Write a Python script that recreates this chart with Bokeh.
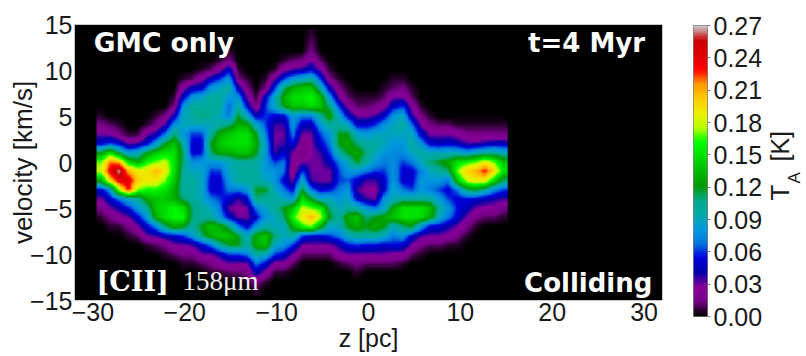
import numpy as np
from bokeh.plotting import figure
from bokeh.layouts import row
from bokeh.models import LinearColorMapper, FixedTicker, Label, Range1d
from bokeh.embed import file_html
from bokeh.resources import INLINE

# velocity channels (km/s), top to bottom
velocity = [14,13,12,11,10, 9,8,7,6,5, 4,3,2,1,0, -1,-2,-3,-4,-5, -6,-7,-8,-9,-10, -11,-12,-13,-14]
# antenna temperature in 0.01 K, one list per position along z
ta01 = [0,0,0,0,0, 0,0,0,0,.5, 1.5,3,5,12,17, 18,13,5,3,1.5, .5,0,0,0,0, 0,0,0,0]
ta02 = [0,0,0,0,0, 0,0,0,0,0, 1,3,6,15,22, 24,20,8,5,3, 1.5,.5,0,0,0, 0,0,0,0]
ta03 = [0,0,0,0,0, 0,0,0,0,0, .5,1.5,5,11,21, 27,24,18,7,4, 2.5,.5,0,0,0, 0,0,0,0]
ta04 = [0,0,0,0,0, 0,0,0,0,0, 0,.5,3,8,15, 21,24,23,9,5.5, 3,1.5,.5,0,0, 0,0,0,0]
ta05 = [0,0,0,0,0, 0,0,0,0,0, 0,.5,3.5,9,13, 19,20,17,10,8, 5,3,1,0,0, 0,0,0,0]
ta06 = [0,0,0,0,0, 0,0,0,0,0, .5,3,5,12,16, 19,19,16,13,10, 8,5,3,.5,0, 0,0,0,0]
ta07 = [0,0,0,0,0, 0,0,0,0,.5, 1.5,4,8,14,17, 21,19,16,14,14, 13,7,3.5,1,0, 0,0,0,0]
ta08 = [0,0,0,0,0, 0,0,0,0,1.5, 3.5,7,12,15,18, 19,17,15,14,15, 15,11,4.5,1.5,.5, 0,0,0,0]
ta09 = [0,0,0,0,0, 0,0,.5,1.5,4.5, 8,11,14,15,15, 15,14,13,13,16, 16,13,5,3,1, 0,0,0,0]
ta10 = [0,0,0,0,0, .5,2.5,5,8,9, 9,8,10,11,11, 10,10,10,11,15, 16,12,6,3,1.5, .5,0,0,0]
ta11 = [0,0,0,0,0, 1,4.5,8,10,10, 9,6,5,5,7.5, 9,10,10,10,11, 11,10,8,3.5,1.5, .5,0,0,0]
ta12 = [0,0,0,0,.5, 2.5,5,9,10,11, 9,6,5,5.5,8, 9,9,9,9,10, 10,12,11,5,3, 1,0,0,0]
ta13 = [0,0,0,0,1, 4.5,8,10,10,10, 9,10,12,11,8, 6,5,5,7,9, 10,14,13,7,3, 1.5,.5,0,0]
ta14 = [0,0,0,.5,2.5, 6,9,10,10,9, 10,13,14,13,8, 6,5,5,6,7, 8,13,14,10,4, 2.5,.5,0,0]
ta15 = [0,0,.5,1.5,5, 8,10,8,6.5,7, 11,14,15,13,9, 9,8,7,5,3, 5,11,14,12,6, 3,1,0,0]
ta16 = [0,0,0,0,.5, 1.5,4.5,8,10,12, 13,15,15,14,10, 10,10,7,3.5,2.5, 3,7,12,12,6, 3,1,0,0]
ta17 = [0,0,0,0,0, .5,1.5,3,5,9, 13,15,15,14,10, 10,10,8,5,3, 3,5,9,10,7, 3,1.5,.5,0]
ta18 = [0,0,0,0,0, 0,0,.5,1.5,4.5, 9,12,13,12,10, 10,10,12,11,7, 5,8,13,13,10, 7,4.5,1.5,.5]
ta19 = [0,0,0,0,0, .5,1.5,5,6,6, 6,7,8,8,8, 8,9,12,10,9, 8,10,14,14,9, 5,2.5,.5,0]
ta20 = [0,0,0,0,.5, 3,6,9,9,5, 3.5,3,3,3.5,6, 8,8,9,10,10, 9,9,11,9,6, 2.5,.5,0,0]
ta21 = [0,0,0,.5,2.5, 6,11,13,12,5, 3.5,3,3.5,5,7, 7,5,7,9,12, 11,9,9,8,5, 2.5,.5,0,0]
ta22 = [0,0,0,1,3.5, 8,13,15,14,8, 8,7,5.5,3,2, 1.2,3,5,8,14, 16,13,10,6,3, 1,0,0,0]
ta23 = [0,0,0,1.5,4, 9,14,15,14,7, 4.5,3,1.5,1.2,3, 6,9,12,15,18, 19,16,6,3,1, 0,0,0,0]
ta24 = [.5,1,1.5,3,5, 10,14,16,15,7, 4.5,3,2.8,2.8,3, 3,3.5,7,12,17, 21,17,5,3,1, 0,0,0,0]
ta25 = [0,0,0,1,3, 6,10,14,14,10, 8,6,5,3.5,3, 3,3,5,9,16, 18,13,5,3,1, 0,0,0,0]
ta26 = [0,0,0,0,.5, 1.5,4.5,8,11,13, 10,8,7,6,4.5, 3,3,5.5,9,11, 12,9,6,3,1, 0,0,0,0]
ta27 = [0,0,0,0,0, .5,1.5,3,6,9, 10,12,12,10,7, 6,6,7,8,9, 10,9,7,4,2.5, .5,0,0,0]
ta28 = [0,0,0,0,0, 0,.5,1,2.5,5, 9,12,13,12,9, 8,6.5,8,9,10, 13,12,9,5.5,3, 1,0,0,0]
ta29 = [0,0,0,0,0, 0,0,.5,1,3, 5,9,11,13,12, 8,5,3.5,5,10, 14,13,10,6,3, 1.5,.5,0,0]
ta30 = [0,0,0,0,0, 0,0,.5,1,3, 5,8,10,11,10, 7,3.5,2.5,3.5,8, 11,12,10,5.5,3, 1,0,0,0]
ta31 = [0,0,0,0,0, 0,0,.5,1.5,3.5, 6,9,10,9,8, 6,3.5,2.5,3,7, 12,13,10,5.5,3, 1,0,0,0]
ta32 = [0,0,0,0,0, 0,.5,1,2.5,5, 8,9,9,8,7, 6,5,5,8,9, 13,12,9,5,3, 1,0,0,0]
ta33 = [0,0,0,0,0, .5,1,3,5,8, 9,9,8,7.5,7.5, 8,8,9,9,13, 14,9,7,5.5,2.5, 1,0,0,0]
ta34 = [0,0,0,0,0, .5,1.5,3,6,9, 10,9,8,7.5,6, 5,5,7,10,15, 15,11,8,5,2.5, .5,0,0,0]
ta35 = [0,0,0,0,0, 0,.5,1,2.5,4, 7,9,10,9,7, 5,5,6,10,15, 15,12,5,3,1, 0,0,0,0]
ta36 = [0,0,0,0,0, 0,0,0,.5,1.5, 3,5,8,10,9, 7,8,8,10,15, 15,8,3.5,1.5,.5, 0,0,0,0]
ta37 = [0,0,0,0,0, 0,0,0,0,.5, 1.5,3,5,9,11, 9,8,7,10,14, 13,5,3,1,0, 0,0,0,0]
ta38 = [0,0,0,0,0, 0,0,0,0,0, 1,3,4.5,9,12, 10,8,6,8,10, 9,5,3,1,0, 0,0,0,0]
ta39 = [0,0,0,0,0, 0,0,0,0,0, 1,3,5,9,13, 11,7,5,6,8, 7,4,2.5,.5,0, 0,0,0,0]
ta40 = [0,0,0,0,0, 0,0,0,0,0, .5,2.5,4.5,9,15, 17,14,7,5,5.5, 5,3,1.5,.5,0, 0,0,0,0]
ta41 = [0,0,0,0,0, 0,0,0,0,0, .5,1.5,3.5,8,16, 20,18,11,5.5,4.5, 3,1.5,.5,0,0, 0,0,0,0]
ta42 = [0,0,0,0,0, 0,0,0,0,0, .5,1.5,3.5,9,17, 21,19,12,5,3, 1.5,.5,0,0,0, 0,0,0,0]
ta43 = [0,0,0,0,0, 0,0,0,0,0, .5,1.5,4,10,19, 23,19,10,4.5,2.5, 1,0,0,0,0, 0,0,0,0]
ta44 = [0,0,0,0,0, 0,0,0,0,0, .5,1.5,4.5,10,17, 20,15,7.5,4,2.5, 1,0,0,0,0, 0,0,0,0]
ta45 = [0,0,0,0,0, 0,0,0,0,0, .5,1.5,4.5,9,14, 15,11,6,3.5,1.5, .5,0,0,0,0, 0,0,0,0]

z_left, z_right = -29.6, 15.15
x_ticks = [-30, -20, -10, 0, 10, 20, 30]
y_ticks = [-15, -10, -5, 0, 5, 10, 15]
cb_ticks = [0.00, 0.03, 0.06, 0.09, 0.12, 0.15, 0.18, 0.21, 0.24, 0.27]

stops = [(0,0,0),(.4667,0,.5333),(.5333,0,.6),(0,0,.6667),(0,0,.8667),(0,.4667,.8667),(0,.6,.8667),
         (0,.6667,.6667),(0,.6667,.5333),(0,.6,0),(0,.7333,0),(0,.8667,0),(0,1,0),(.7333,1,0),
         (.9333,.9333,0),(1,.8,0),(1,.6,0),(1,0,0),(.8667,0,0),(.8,0,0),(.8,.8,.8)]
s = np.array(stops)
pos = np.linspace(0, 1, len(stops))
t = np.linspace(0, 1, 256)
palette = ["#%02x%02x%02x" % tuple(int(round(255*np.interp(u, pos, s[:, i]))) for i in range(3)) for u in t]
mapper = LinearColorMapper(palette=palette, low=0, high=0.27)

columns = [globals()["ta%02d" % i] for i in range(1, 46)]
grid = np.array(columns, dtype=float).T[::-1] / 100.0   # rows bottom to top

def display_resample(a, k=6):
    """Bilinear display resampling of the read grid, as an imshow(interpolation='bilinear') does."""
    ny, nx = a.shape
    xi = (np.arange(nx * k) + 0.5) / k - 0.5
    yi = (np.arange(ny * k) + 0.5) / k - 0.5
    b = np.array([np.interp(xi, np.arange(nx), r) for r in a])
    return np.array([np.interp(yi, np.arange(ny), c) for c in b.T]).T

FONT = "Liberation Sans"
FS = "25px"
INK = "#1a1a1a"

p = figure(frame_width=588, frame_height=276, x_range=Range1d(-32, 32), y_range=Range1d(-15, 15),
           output_backend="svg", toolbar_location=None, background_fill_color="black", align="start",
           min_border_left=74, min_border_right=10, min_border_top=24, min_border_bottom=30)
p.image(image=[display_resample(grid)], x=z_left, y=velocity[-1]-0.5, dw=z_right-z_left, dh=len(velocity), color_mapper=mapper)
p.grid.visible = False
p.outline_line_color = "#c8c8c8"
p.outline_line_width = 1

for ax, ticks, lab in ((p.xaxis[0], x_ticks, "z [pc]"), (p.yaxis[0], y_ticks, "velocity [km/s]")):
    ax.ticker = FixedTicker(ticks=ticks)
    ax.major_label_overrides = {k: str(k).replace("-", "\u2212") for k in ticks}
    ax.major_tick_line_color = None
    ax.minor_tick_line_color = None
    ax.major_tick_out = 0
    ax.major_tick_in = 0
    ax.axis_line_color = None
    ax.major_label_text_font = FONT
    ax.major_label_text_font_size = FS
    ax.major_label_text_color = INK
    ax.major_label_standoff = 2
    ax.axis_label = lab
    ax.axis_label_text_font = FONT
    ax.axis_label_text_font_size = "26px" if lab.startswith("v") else FS
    ax.axis_label_text_font_style = "normal"
    ax.axis_label_text_color = INK
    ax.axis_label_standoff = 0
p.yaxis[0].major_label_orientation = "horizontal"
p.yaxis[0].axis_label_standoff = -11

def note(text, x, y, align, font, size, style, color="white"):
    p.add_layout(Label(x=x, y=y, text=text, text_align=align, text_baseline="alphabetic", text_color=color,
                       text_font=font, text_font_size=size, text_font_style=style))

note("GMC only", -29.9, 13.0, "left", "DejaVu Sans", "26.5px", "bold")
note("t=4 Myr", 30.1, 13.0, "right", "DejaVu Sans", "26px", "bold")
note("Colliding", 30.9, -13.1, "right", "DejaVu Sans", "26px", "bold")
note("[CII]", -29.6, -12.9, "left", "DejaVu Serif", "27px", "bold")
note("158\u03bcm", -20.25, -12.9, "left", "Liberation Serif", "27px", "normal", "#f0f0f0")

# a 1px top margin keeps this frame's top independent of the main plot's
cb = figure(frame_width=14, frame_height=291, x_range=Range1d(0, 1), y_range=Range1d(0, 0.27),
            output_backend="svg", toolbar_location=None, y_axis_location="right", align="start",
            margin=(1, 0, 0, 0), min_border_left=21, min_border_right=57, min_border_top=16, min_border_bottom=26)
cb.image(image=[np.linspace(0, 0.27, 256)[:, None]], x=0, y=0, dw=1, dh=0.27, color_mapper=mapper)
cb.grid.visible = False
cb.xaxis.visible = False
cb.outline_line_color = "#808080"
ay = cb.yaxis[0]
ay.ticker = FixedTicker(ticks=cb_ticks)
ay.major_label_overrides = {k: "%.2f" % k for k in cb_ticks}
ay.major_label_text_font = FONT
ay.major_label_text_font_size = FS
ay.major_label_text_color = INK
ay.major_label_standoff = 3
ay.major_tick_out = 3
ay.major_tick_in = 0
ay.major_tick_line_color = "#808080"
ay.minor_tick_line_color = None
ay.axis_line_color = None

# colour-bar title in a text-only strip whose ranges run in pixels
lab = figure(frame_width=41, frame_height=340, x_range=Range1d(0, 41), y_range=Range1d(340, 0),
             output_backend="svg", toolbar_location=None, align="start", outline_line_color=None,
             min_border_left=0, min_border_right=0, min_border_top=0, min_border_bottom=0)
lab.axis.visible = False
lab.grid.visible = False

def rotated(text, x, y, size):
    lab.add_layout(Label(x=x, y=y, text=text, angle=np.pi/2, text_align="left", text_baseline="middle",
                         text_color=INK, text_font=FONT, text_font_size=size))

rotated("T", 14, 176, "26px")
rotated("A", 29, 159, "17px")
rotated("[K]", 14, 137, "25px")

layout = row(p, cb, lab, spacing=0)
open("out.html", "w").write(file_html(layout, INLINE))
